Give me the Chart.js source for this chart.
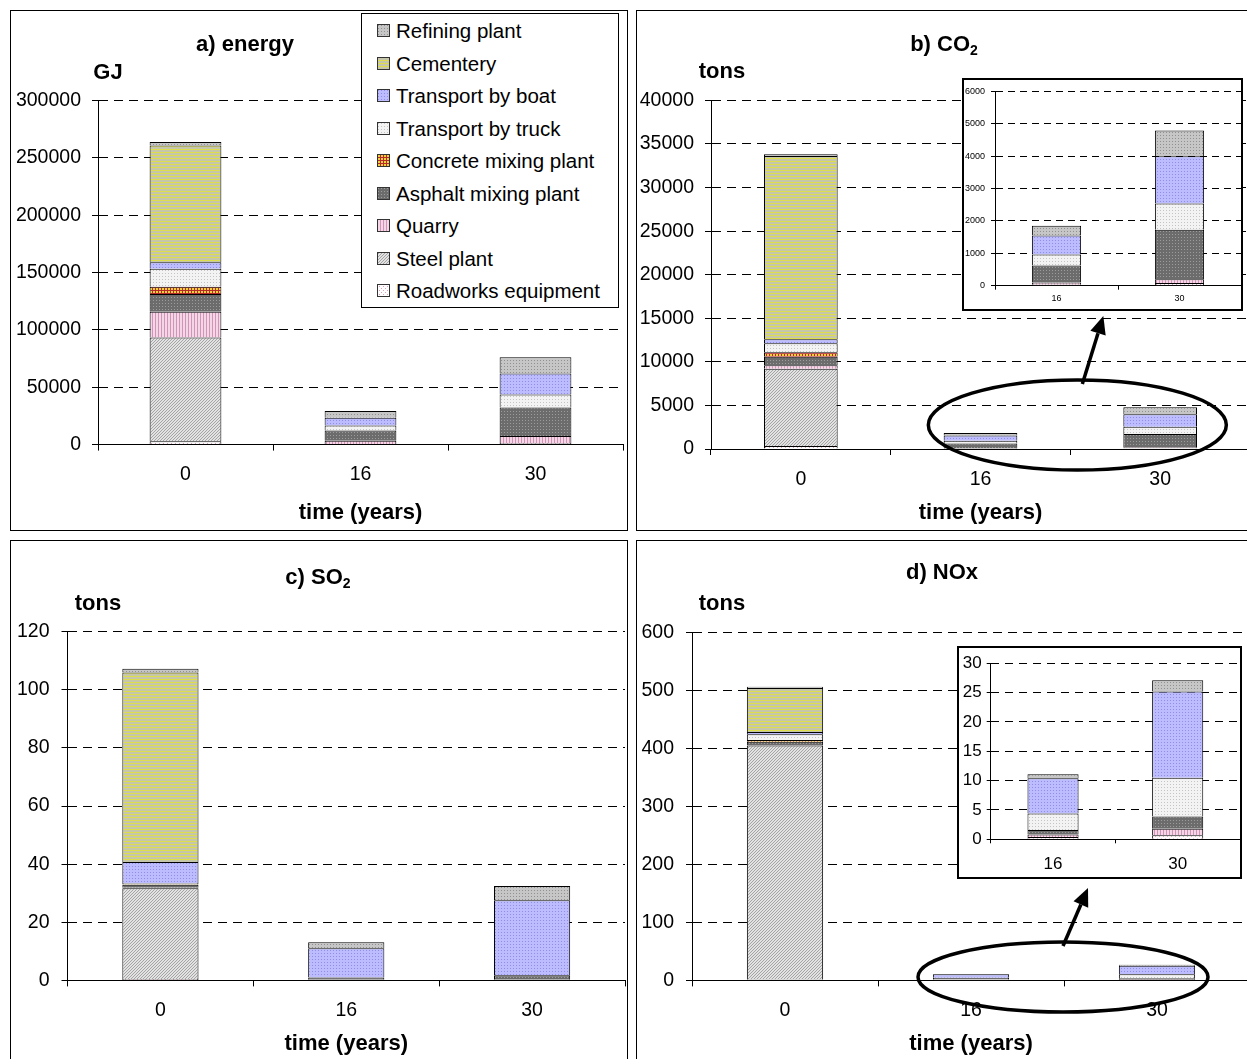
<!DOCTYPE html>
<html>
<head>
<meta charset="utf-8">
<title>Energy and emissions over time</title>
<script src="https://cdn.jsdelivr.net/npm/chart.js@4.4.1/dist/chart.umd.min.js"></script>
<style>
  body { margin: 0; background: #fff; }
  #page { position: relative; width: 1247px; height: 1059px; overflow: hidden; background: #fff;
          font-family: 'Liberation Sans', Arial, sans-serif; color: #000; }
  .frame { position: absolute; border: 1.5px solid #000; box-sizing: border-box; }
  canvas.main { position: absolute; }
  .inset { position: absolute; border: 2px solid #000; box-sizing: border-box; background: #fff; }
  .inset canvas { display: block; }
  .lbl { position: absolute; transform: translate(-50%, -50%); font-weight: bold; font-size: 22px; white-space: nowrap; line-height: 1; }
  .lbl sub { font-size: 14px; vertical-align: -4px; line-height: 0; }
  #legend { position: absolute; left: 361px; top: 13px; width: 258px; height: 295px; box-sizing: border-box;
            border: 1px solid #000; background: #fff; }
  #legend .item { position: absolute; left: 15px; height: 24px; line-height: 24px; font-size: 20.5px; white-space: nowrap; }
  #legend canvas { position: absolute; left: 0; top: 5px; }
  #legend span { position: absolute; left: 19px; top: 0; }
</style>
</head>
<body>
<div id="page">
  <div class="frame" style="left:10px;top:10px;width:618px;height:521px"></div>
  <div class="frame" style="left:636px;top:10px;width:620px;height:521px"></div>
  <div class="frame" style="left:10px;top:540px;width:618px;height:530px"></div>
  <div class="frame" style="left:636px;top:540px;width:620px;height:530px"></div>

  <canvas class="main" id="energy" width="616" height="519" style="left:11px;top:11px"></canvas>
  <canvas class="main" id="co2" width="613" height="519" style="left:637px;top:11px"></canvas>
  <canvas class="main" id="so2" width="616" height="518" style="left:11px;top:541px"></canvas>
  <canvas class="main" id="nox" width="613" height="518" style="left:637px;top:541px"></canvas>

  <div class="inset" style="left:962px;top:78px;width:281px;height:233px"><canvas id="co2Zoom" width="277" height="229"></canvas></div>
  <div class="inset" style="left:957px;top:646px;width:285px;height:233px"><canvas id="noxZoom" width="281" height="229"></canvas></div>

  <div id="legend"></div>

  <div class="lbl" style="left:245px;top:44px">a) energy</div>
  <div class="lbl" style="left:108px;top:72px">GJ</div>
  <div class="lbl" style="left:944px;top:44px">b) CO<sub>2</sub></div>
  <div class="lbl" style="left:722px;top:71px">tons</div>
  <div class="lbl" style="left:318px;top:577px">c) SO<sub>2</sub></div>
  <div class="lbl" style="left:98px;top:603px">tons</div>
  <div class="lbl" style="left:942px;top:572px">d) NOx</div>
  <div class="lbl" style="left:722px;top:603px">tons</div>
</div>

<script>
const categories = ['0', '16', '30'];
const insetCategories = ['16', '30'];

// stack order, bottom to top
const seriesNames = ['Roadworks equipment', 'Steel plant', 'Quarry', 'Asphalt mixing plant',
  'Concrete mixing plant', 'Transport by truck', 'Transport by boat', 'Cementery', 'Refining plant'];

// one row per series (same order as seriesNames), one value per category
const energyGJ = [
  [3000, 500, 1500],
  [90400, 0, 0],
  [22400, 2900, 5900],
  [15400, 8800, 25000],
  [6400, 0, 0],
  [15600, 4400, 11300],
  [5700, 6800, 18200],
  [101900, 0, 0],
  [2900, 5900, 14200]
];
const co2Tons = [
  [340, 30, 80],
  [8870, 0, 0],
  [390, 70, 120],
  [990, 520, 1530],
  [500, 0, 0],
  [1040, 340, 810],
  [460, 590, 1460],
  [21030, 0, 0],
  [200, 300, 790]
];
const so2Tons = [
  [0.5, 0.2, 0.2],
  [31.2, 0, 0],
  [0.2, 0, 0],
  [1.0, 0.8, 1.6],
  [0.2, 0, 0],
  [0.4, 0, 0],
  [7.2, 10.1, 25.8],
  [65.2, 0, 0],
  [1.3, 2.0, 4.9]
];
const noxTons = [
  [1.5, 0.4, 0.7],
  [403.5, 0, 0],
  [0.7, 0.4, 1.1],
  [5.5, 0.8, 2.1],
  [3.0, 0, 0],
  [10.0, 2.8, 6.6],
  [4.0, 6.0, 14.7],
  [76.0, 0, 0],
  [2.0, 0.7, 1.9]
];

Chart.defaults.font.family = "'Liberation Sans', Arial, sans-serif";
Chart.defaults.color = '#000';

// small hatch / dot tiles like the old spreadsheet fills
function tile(size, paint) {
  const c = document.createElement('canvas');
  c.width = size;
  c.height = size;
  const g = c.getContext('2d');
  paint(g, size);
  return g.createPattern(c, 'repeat');
}
function base(g, color, size) { g.fillStyle = color; g.fillRect(0, 0, size, size); }
function dots(g, color, pts) { g.fillStyle = color; pts.forEach(([x, y]) => g.fillRect(x, y, 1, 1)); }

const fills = [
  tile(4, (g, s) => { base(g, '#ffffff', s); dots(g, '#e2a0bc', [[0, 0], [2, 2]]); }),
  tile(3, (g, s) => { base(g, '#e2e2e2', s); dots(g, '#a4a4a4', [[0, 2], [1, 1], [2, 0]]); }),
  tile(3, (g, s) => { base(g, '#f4d6e6', s); g.fillStyle = '#cf94b6'; g.fillRect(0, 0, 1, s); }),
  tile(3, (g, s) => { base(g, '#6c6c6c', s); dots(g, '#9c9c9c', [[1, 1]]); }),
  tile(3, (g, s) => { base(g, '#f0d240', s); g.fillStyle = '#b82a28'; g.fillRect(0, 0, s, 1); g.fillRect(0, 0, 1, s); }),
  tile(3, (g, s) => { base(g, '#f3f3f3', s); dots(g, '#c4c4c4', [[1, 1]]); }),
  tile(3, (g, s) => { base(g, '#bcbcff', s); dots(g, '#8e8ee8', [[1, 1]]); }),
  tile(3, (g, s) => { base(g, '#c6c6aa', s); g.fillStyle = '#dede4c'; g.fillRect(0, 0, s, 1); }),
  tile(3, (g, s) => { base(g, '#c6c6c6', s); dots(g, '#909090', [[1, 1]]); })
];

// ellipse round the small bars + arrow pointing at the zoomed inset
const zoomMark = {
  id: 'zoomMark',
  afterDraw(chart, args, opts) {
    const {x, y} = chart.scales;
    const cx = (x.getPixelForValue(1) + x.getPixelForValue(2)) / 2 + opts.dx;
    const cy = y.getPixelForValue(0) - opts.lift;
    const ctx = chart.ctx;
    ctx.save();
    ctx.strokeStyle = '#000';
    ctx.fillStyle = '#000';
    ctx.lineWidth = 3.5;
    ctx.beginPath();
    ctx.ellipse(cx, cy, opts.rx, opts.ry, 0, 0, Math.PI * 2);
    ctx.stroke();

    const sx = cx + opts.from[0], sy = cy + opts.from[1];
    const tx = cx + opts.to[0], ty = cy + opts.to[1];
    const ang = Math.atan2(ty - sy, tx - sx);
    const head = 18;
    ctx.beginPath();
    ctx.moveTo(sx, sy);
    ctx.lineTo(tx - head * Math.cos(ang), ty - head * Math.sin(ang));
    ctx.stroke();
    ctx.beginPath();
    ctx.moveTo(tx, ty);
    ctx.lineTo(tx - head * Math.cos(ang) + 8 * Math.sin(ang), ty - head * Math.sin(ang) - 8 * Math.cos(ang));
    ctx.lineTo(tx - head * Math.cos(ang) - 8 * Math.sin(ang), ty - head * Math.sin(ang) + 8 * Math.cos(ang));
    ctx.closePath();
    ctx.fill();
    ctx.restore();
  }
};

function stackedChart(id, rows, labels, geo) {
  return new Chart(document.getElementById(id), {
    type: 'bar',
    data: {
      labels: labels,
      datasets: rows.map((vals, i) => ({
        label: seriesNames[i],
        data: vals,
        backgroundColor: fills[i],
        borderColor: '#000',
        borderWidth: 1,
        categoryPercentage: 1,
        barPercentage: geo.barPct
      }))
    },
    options: {
      responsive: false,
      animation: false,
      events: [],
      layout: { padding: { left: 0, top: geo.top, right: geo.right, bottom: 0 } },
      plugins: {
        legend: { display: false },
        tooltip: { enabled: false },
        zoomMark: geo.mark || {}
      },
      scales: {
        x: {
          stacked: true,
          ticks: { color: '#000', font: { size: geo.font }, padding: geo.xPad },
          grid: { display: true, drawOnChartArea: false, drawTicks: true, tickLength: geo.tick, tickColor: '#000', offset: true },
          border: { display: true, color: '#000', width: 1 },
          title: {
            display: !!geo.xTitle,
            text: 'time (years)',
            color: '#000',
            font: { size: 22, weight: 'bold', lineHeight: 1.2 },
            padding: { top: 0, bottom: geo.titlePad || 0 }
          },
          afterFit: s => { s.height = geo.xHeight; }
        },
        y: {
          stacked: true,
          min: 0,
          max: geo.max,
          ticks: { stepSize: geo.step, color: '#000', font: { size: geo.font }, padding: geo.yPad, callback: v => v },
          grid: { color: '#000', lineWidth: 1, drawTicks: true, tickLength: geo.tick, tickColor: '#000', tickBorderDash: [] },
          border: { display: true, color: '#000', width: 1, dash: geo.dash },
          afterFit: s => { s.width = geo.left; }
        }
      }
    },
    plugins: geo.mark ? [zoomMark] : []
  });
}

stackedChart('energy', energyGJ, categories, {
  left: 87, top: 89.4, right: 4, xHeight: 85.4, max: 300000, step: 50000,
  font: 19.5, tick: 6, yPad: 11, xPad: 12.7, barPct: 0.41, dash: [9, 6], xTitle: true, titlePad: 4
});
stackedChart('co2', co2Tons, categories, {
  left: 74, top: 89.4, right: 0, xHeight: 81, max: 40000, step: 5000,
  font: 19.5, tick: 6, yPad: 11, xPad: 12.7, barPct: 0.41, dash: [9, 6], xTitle: true, titlePad: 4,
  mark: { dx: 7, lift: 24, rx: 149, ry: 45, from: [5, -41], to: [26, -109] }
});
stackedChart('so2', so2Tons, categories, {
  left: 56.5, top: 90.6, right: 2, xHeight: 78.6, max: 120, step: 20,
  font: 19.5, tick: 6, yPad: 12, xPad: 12.2, barPct: 0.41, dash: [9, 6], xTitle: true, titlePad: 2
});
stackedChart('nox', noxTons, categories, {
  left: 55, top: 91.3, right: 0, xHeight: 78.6, max: 600, step: 100,
  font: 19.5, tick: 6, yPad: 12, xPad: 12.2, barPct: 0.41, dash: [9, 6], xTitle: true, titlePad: 2,
  mark: { dx: -1, lift: 3.4, rx: 145, ry: 35, from: [0, -31], to: [25, -89] }
});

stackedChart('co2Zoom', co2Tons.map(r => r.slice(1)), insetCategories, {
  left: 31, top: 7.3, right: 0, xHeight: 23.3, max: 6000, step: 1000,
  font: 9, tick: 4, yPad: 6, xPad: 3.9, barPct: 0.4, dash: [7, 5]
});
stackedChart('noxZoom', noxTons.map(r => r.slice(1)), insetCategories, {
  left: 31.7, top: 12, right: 0, xHeight: 37.7, max: 30, step: 5,
  font: 17, tick: 4, yPad: 5, xPad: 10.5, barPct: 0.41, dash: [8, 6]
});

// legend listed top of stack first
const legendBox = document.getElementById('legend');
for (let k = seriesNames.length - 1, row = 0; k >= 0; k--, row++) {
  const item = document.createElement('div');
  item.className = 'item';
  item.style.top = (5 + row * 32.5) + 'px';
  const sw = document.createElement('canvas');
  sw.width = 13;
  sw.height = 13;
  const g = sw.getContext('2d');
  g.fillStyle = fills[k];
  g.fillRect(0, 0, 13, 13);
  g.strokeStyle = '#333';
  g.lineWidth = 1;
  g.strokeRect(0.5, 0.5, 12, 12);
  const txt = document.createElement('span');
  txt.textContent = seriesNames[k];
  item.appendChild(sw);
  item.appendChild(txt);
  legendBox.appendChild(item);
}
</script>
</body>
</html>
